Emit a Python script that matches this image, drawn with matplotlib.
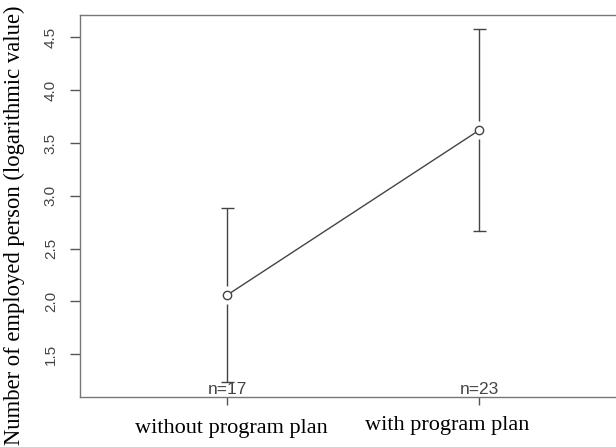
import numpy as np
import matplotlib
matplotlib.use('Agg')
import matplotlib.pyplot as plt

# group means of log(employees) with confidence half-widths
groups = ["without program plan", "with program plan"]
means = [2.06, 3.62]
ci_half = [0.82, 0.955]
counts = [17, 23]
yticks = [1.5, 2.0, 2.5, 3.0, 3.5, 4.0, 4.5]

SERIF = "Liberation Serif"
SANS = "Liberation Sans"

W, H = 616, 447
fig = plt.figure(figsize=(W / 100, H / 100), dpi=100)
ax = fig.add_axes([80 / W, 1 - 397 / H, 546 / W, 382 / H])

x = np.arange(1, len(groups) + 1)
means = np.asarray(means)
ci_half = np.asarray(ci_half)

ax.set_xlim(0.4167, 2.583)
ax.set_ylim(1.096, 4.711)

# px -> data conversions used for the gap around the markers and the caps
ppy = 105.6
ppx = 252.0
gap = 9 / ppy
cap = 6.5 / ppx

line_col = "#444444"
ax.vlines(x, means + gap, means + ci_half, color=line_col, lw=1.0)
ax.vlines(x, means - ci_half, means - gap, color=line_col, lw=1.0)
ax.hlines(means + ci_half, x - cap, x + cap, color=line_col, lw=1.0)
ax.hlines(means - ci_half, x - cap, x + cap, color=line_col, lw=1.0)

ax.plot(x, means, color=line_col, lw=1.0, marker="o", markersize=6,
        markerfacecolor="white", markeredgecolor=line_col, markeredgewidth=1.0)

# sample sizes along the bottom
for xi, n in zip(x, counts):
    ax.text(xi, 1.125, f"n={n}", ha="center", va="baseline", fontsize=12.5,
            family=SANS, color="#444444")

for s in ["left", "top", "bottom"]:
    ax.spines[s].set_color("#777777")
    ax.spines[s].set_linewidth(1.0)
ax.spines["right"].set_visible(False)

ax.set_yticks(yticks)
ax.set_yticklabels([f"{v:.1f}" for v in yticks], rotation=90, va="center",
                   fontsize=11, family=SANS, color="#444444")
ax.tick_params(axis="y", length=7, width=1.0, color="#555555", pad=9)

ax.set_xticks(x)
ax.set_xticklabels([])
ax.tick_params(axis="x", length=6, width=1.0, color="#555555")

# category labels under the axis
label_pos = [(231, 433), (447, 430)]
for g, (px, py) in zip(groups, label_pos):
    fig.text(px / W, 1 - py / H, g, ha="center", va="baseline", fontsize=16,
             family=SERIF, color="black")

fig.text(14 / W, 1 - 225 / H, "Number of employed person (logarithmic value)",
         rotation=90, ha="center", va="center", fontsize=16.3, family=SERIF,
         color="black")

fig.savefig("out.png", dpi=100)
